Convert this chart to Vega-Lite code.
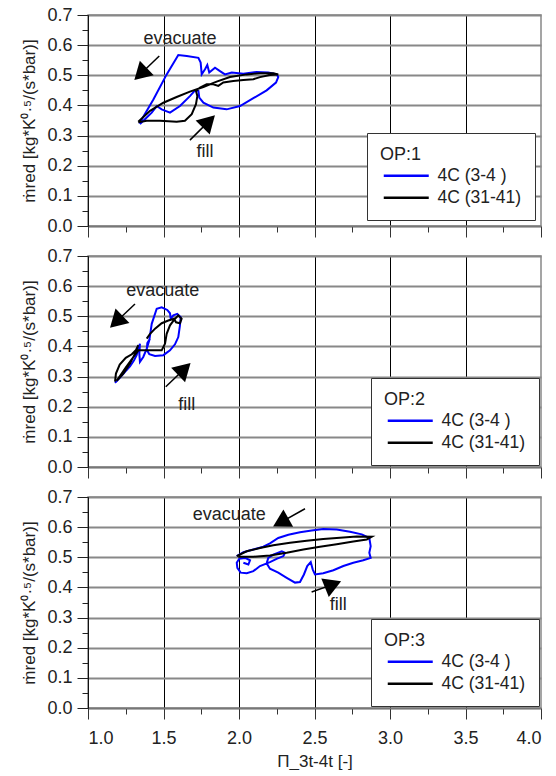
{
  "$schema": "https://vega.github.io/schema/vega-lite/v6.json",
  "background": "white",
  "padding": {"left": 20, "top": 5, "right": 0, "bottom": 0},
  "spacing": 30,
  "bounds": "flush",
  "config": {
    "font": "Liberation Sans",
    "view": {"stroke": "#888", "strokeWidth": 1.5},
    "axis": {"labelFontSize": 18, "titleFontSize": 17, "labelColor": "#222", "titleColor": "#222", "titleFontWeight": "normal", "labelFont": "Liberation Sans", "titleFont": "Liberation Sans"},
    "legend": {"orient": "bottom-right", "strokeColor": "#333", "fillColor": "white", "padding": 13, "titleFontSize": 18, "labelFontSize": 17.5, "titleFontWeight": "normal", "titleColor": "#222", "labelColor": "#222", "symbolType": "M-1,0H8", "symbolSize": 100, "symbolStrokeWidth": 2.5, "labelOffset": 40, "rowPadding": 3, "titlePadding": 3, "titleFont": "Liberation Sans", "labelFont": "Liberation Sans"}
  },
  "resolve": {"scale": {"color": "independent"}, "legend": {"color": "independent"}},
  "datasets": {
    "curves": [
      {"p":1,"s":"4C (3-4 )","i":0,"x":1.340,"y":0.340},{"p":1,"s":"4C (3-4 )","i":1,"x":1.433,"y":0.420},{"p":1,"s":"4C (3-4 )","i":2,"x":1.521,"y":0.503},{"p":1,"s":"4C (3-4 )","i":3,"x":1.598,"y":0.567},{"p":1,"s":"4C (3-4 )","i":4,"x":1.654,"y":0.564},{"p":1,"s":"4C (3-4 )","i":5,"x":1.731,"y":0.558},{"p":1,"s":"4C (3-4 )","i":6,"x":1.746,"y":0.542},{"p":1,"s":"4C (3-4 )","i":7,"x":1.753,"y":0.503},{"p":1,"s":"4C (3-4 )","i":8,"x":1.775,"y":0.520},{"p":1,"s":"4C (3-4 )","i":9,"x":1.790,"y":0.534},{"p":1,"s":"4C (3-4 )","i":10,"x":1.803,"y":0.509},{"p":1,"s":"4C (3-4 )","i":11,"x":1.841,"y":0.525},{"p":1,"s":"4C (3-4 )","i":12,"x":1.874,"y":0.514},{"p":1,"s":"4C (3-4 )","i":13,"x":1.907,"y":0.503},{"p":1,"s":"4C (3-4 )","i":14,"x":1.952,"y":0.509},{"p":1,"s":"4C (3-4 )","i":15,"x":2.029,"y":0.505},{"p":1,"s":"4C (3-4 )","i":16,"x":2.117,"y":0.511},{"p":1,"s":"4C (3-4 )","i":17,"x":2.194,"y":0.509},{"p":1,"s":"4C (3-4 )","i":18,"x":2.250,"y":0.503},{"p":1,"s":"4C (3-4 )","i":19,"x":2.260,"y":0.494},{"p":1,"s":"4C (3-4 )","i":20,"x":2.245,"y":0.476},{"p":1,"s":"4C (3-4 )","i":21,"x":2.183,"y":0.450},{"p":1,"s":"4C (3-4 )","i":22,"x":2.095,"y":0.424},{"p":1,"s":"4C (3-4 )","i":23,"x":2.007,"y":0.398},{"p":1,"s":"4C (3-4 )","i":24,"x":1.918,"y":0.387},{"p":1,"s":"4C (3-4 )","i":25,"x":1.830,"y":0.393},{"p":1,"s":"4C (3-4 )","i":26,"x":1.764,"y":0.409},{"p":1,"s":"4C (3-4 )","i":27,"x":1.737,"y":0.426},{"p":1,"s":"4C (3-4 )","i":28,"x":1.731,"y":0.448},{"p":1,"s":"4C (3-4 )","i":29,"x":1.709,"y":0.450},{"p":1,"s":"4C (3-4 )","i":30,"x":1.675,"y":0.431},{"p":1,"s":"4C (3-4 )","i":31,"x":1.609,"y":0.398},{"p":1,"s":"4C (3-4 )","i":32,"x":1.543,"y":0.376},{"p":1,"s":"4C (3-4 )","i":33,"x":1.488,"y":0.387},{"p":1,"s":"4C (3-4 )","i":34,"x":1.455,"y":0.398},{"p":1,"s":"4C (3-4 )","i":35,"x":1.422,"y":0.376},{"p":1,"s":"4C (3-4 )","i":36,"x":1.377,"y":0.354},{"p":1,"s":"4C (3-4 )","i":37,"x":1.344,"y":0.338},
      {"p":1,"s":"4C (31-41)","i":0,"x":1.333,"y":0.346},{"p":1,"s":"4C (31-41)","i":1,"x":1.411,"y":0.382},{"p":1,"s":"4C (31-41)","i":2,"x":1.499,"y":0.409},{"p":1,"s":"4C (31-41)","i":3,"x":1.587,"y":0.428},{"p":1,"s":"4C (31-41)","i":4,"x":1.675,"y":0.446},{"p":1,"s":"4C (31-41)","i":5,"x":1.764,"y":0.461},{"p":1,"s":"4C (31-41)","i":6,"x":1.852,"y":0.479},{"p":1,"s":"4C (31-41)","i":7,"x":1.940,"y":0.494},{"p":1,"s":"4C (31-41)","i":8,"x":2.051,"y":0.503},{"p":1,"s":"4C (31-41)","i":9,"x":2.139,"y":0.507},{"p":1,"s":"4C (31-41)","i":10,"x":2.227,"y":0.507},{"p":1,"s":"4C (31-41)","i":11,"x":2.260,"y":0.503},{"p":1,"s":"4C (31-41)","i":12,"x":2.205,"y":0.501},{"p":1,"s":"4C (31-41)","i":13,"x":2.139,"y":0.494},{"p":1,"s":"4C (31-41)","i":14,"x":2.095,"y":0.487},{"p":1,"s":"4C (31-41)","i":15,"x":2.029,"y":0.484},{"p":1,"s":"4C (31-41)","i":16,"x":1.962,"y":0.481},{"p":1,"s":"4C (31-41)","i":17,"x":1.896,"y":0.476},{"p":1,"s":"4C (31-41)","i":18,"x":1.863,"y":0.465},{"p":1,"s":"4C (31-41)","i":19,"x":1.830,"y":0.470},{"p":1,"s":"4C (31-41)","i":20,"x":1.786,"y":0.470},{"p":1,"s":"4C (31-41)","i":21,"x":1.742,"y":0.459},{"p":1,"s":"4C (31-41)","i":22,"x":1.715,"y":0.448},{"p":1,"s":"4C (31-41)","i":23,"x":1.724,"y":0.431},{"p":1,"s":"4C (31-41)","i":24,"x":1.715,"y":0.404},{"p":1,"s":"4C (31-41)","i":25,"x":1.687,"y":0.371},{"p":1,"s":"4C (31-41)","i":26,"x":1.642,"y":0.349},{"p":1,"s":"4C (31-41)","i":27,"x":1.587,"y":0.346},{"p":1,"s":"4C (31-41)","i":28,"x":1.477,"y":0.349},{"p":1,"s":"4C (31-41)","i":29,"x":1.389,"y":0.349},{"p":1,"s":"4C (31-41)","i":30,"x":1.333,"y":0.344},
      {"p":2,"s":"4C (3-4 )","i":0,"x":1.179,"y":0.279},{"p":2,"s":"4C (3-4 )","i":1,"x":1.212,"y":0.297},{"p":2,"s":"4C (3-4 )","i":2,"x":1.245,"y":0.316},{"p":2,"s":"4C (3-4 )","i":3,"x":1.278,"y":0.334},{"p":2,"s":"4C (3-4 )","i":4,"x":1.305,"y":0.354},{"p":2,"s":"4C (3-4 )","i":5,"x":1.322,"y":0.371},{"p":2,"s":"4C (3-4 )","i":6,"x":1.333,"y":0.393},{"p":2,"s":"4C (3-4 )","i":7,"x":1.344,"y":0.409},{"p":2,"s":"4C (3-4 )","i":8,"x":1.340,"y":0.376},{"p":2,"s":"4C (3-4 )","i":9,"x":1.344,"y":0.349},{"p":2,"s":"4C (3-4 )","i":10,"x":1.366,"y":0.365},{"p":2,"s":"4C (3-4 )","i":11,"x":1.389,"y":0.393},{"p":2,"s":"4C (3-4 )","i":12,"x":1.406,"y":0.420},{"p":2,"s":"4C (3-4 )","i":13,"x":1.422,"y":0.475},{"p":2,"s":"4C (3-4 )","i":14,"x":1.455,"y":0.525},{"p":2,"s":"4C (3-4 )","i":15,"x":1.488,"y":0.530},{"p":2,"s":"4C (3-4 )","i":16,"x":1.525,"y":0.521},{"p":2,"s":"4C (3-4 )","i":17,"x":1.543,"y":0.510},{"p":2,"s":"4C (3-4 )","i":18,"x":1.548,"y":0.492},{"p":2,"s":"4C (3-4 )","i":19,"x":1.565,"y":0.503},{"p":2,"s":"4C (3-4 )","i":20,"x":1.591,"y":0.508},{"p":2,"s":"4C (3-4 )","i":21,"x":1.614,"y":0.497},{"p":2,"s":"4C (3-4 )","i":22,"x":1.609,"y":0.470},{"p":2,"s":"4C (3-4 )","i":23,"x":1.598,"y":0.431},{"p":2,"s":"4C (3-4 )","i":24,"x":1.576,"y":0.407},{"p":2,"s":"4C (3-4 )","i":25,"x":1.543,"y":0.387},{"p":2,"s":"4C (3-4 )","i":26,"x":1.499,"y":0.371},{"p":2,"s":"4C (3-4 )","i":27,"x":1.444,"y":0.368},{"p":2,"s":"4C (3-4 )","i":28,"x":1.406,"y":0.374},{"p":2,"s":"4C (3-4 )","i":29,"x":1.389,"y":0.389},{"p":2,"s":"4C (3-4 )","i":30,"x":1.393,"y":0.411},{"p":2,"s":"4C (3-4 )","i":31,"x":1.411,"y":0.426},
      {"p":2,"s":"4C (31-41)","i":0,"x":1.179,"y":0.283},{"p":2,"s":"4C (31-41)","i":1,"x":1.185,"y":0.310},{"p":2,"s":"4C (31-41)","i":2,"x":1.210,"y":0.340},{"p":2,"s":"4C (31-41)","i":3,"x":1.250,"y":0.362},{"p":2,"s":"4C (31-41)","i":4,"x":1.290,"y":0.374},{"p":2,"s":"4C (31-41)","i":5,"x":1.318,"y":0.388},{"p":2,"s":"4C (31-41)","i":6,"x":1.333,"y":0.404},{"p":2,"s":"4C (31-41)","i":7,"x":1.311,"y":0.376},{"p":2,"s":"4C (31-41)","i":8,"x":1.278,"y":0.343},{"p":2,"s":"4C (31-41)","i":9,"x":1.234,"y":0.310},{"p":2,"s":"4C (31-41)","i":10,"x":1.190,"y":0.286},{"p":2,"s":"4C (31-41)","i":11,"x":1.250,"y":0.330},{"p":2,"s":"4C (31-41)","i":12,"x":1.333,"y":0.387},{"p":2,"s":"4C (31-41)","i":13,"x":1.411,"y":0.387},{"p":2,"s":"4C (31-41)","i":14,"x":1.488,"y":0.387},{"p":2,"s":"4C (31-41)","i":15,"x":1.510,"y":0.409},{"p":2,"s":"4C (31-41)","i":16,"x":1.521,"y":0.442},{"p":2,"s":"4C (31-41)","i":17,"x":1.543,"y":0.470},{"p":2,"s":"4C (31-41)","i":18,"x":1.570,"y":0.488},{"p":2,"s":"4C (31-41)","i":19,"x":1.598,"y":0.503},{"p":2,"s":"4C (31-41)","i":20,"x":1.620,"y":0.492},{"p":2,"s":"4C (31-41)","i":21,"x":1.609,"y":0.477},{"p":2,"s":"4C (31-41)","i":22,"x":1.583,"y":0.480},{"p":2,"s":"4C (31-41)","i":23,"x":1.570,"y":0.492},{"p":2,"s":"4C (31-41)","i":24,"x":1.532,"y":0.486},{"p":2,"s":"4C (31-41)","i":25,"x":1.488,"y":0.477},{"p":2,"s":"4C (31-41)","i":26,"x":1.444,"y":0.459},{"p":2,"s":"4C (31-41)","i":27,"x":1.411,"y":0.442},{"p":2,"s":"4C (31-41)","i":28,"x":1.389,"y":0.426},
      {"p":3,"s":"4C (3-4 )","i":0,"x":1.985,"y":0.504},{"p":3,"s":"4C (3-4 )","i":1,"x":2.029,"y":0.517},{"p":3,"s":"4C (3-4 )","i":2,"x":2.095,"y":0.526},{"p":3,"s":"4C (3-4 )","i":3,"x":2.161,"y":0.535},{"p":3,"s":"4C (3-4 )","i":4,"x":2.205,"y":0.546},{"p":3,"s":"4C (3-4 )","i":5,"x":2.260,"y":0.564},{"p":3,"s":"4C (3-4 )","i":6,"x":2.327,"y":0.575},{"p":3,"s":"4C (3-4 )","i":7,"x":2.404,"y":0.583},{"p":3,"s":"4C (3-4 )","i":8,"x":2.481,"y":0.589},{"p":3,"s":"4C (3-4 )","i":9,"x":2.558,"y":0.594},{"p":3,"s":"4C (3-4 )","i":10,"x":2.647,"y":0.592},{"p":3,"s":"4C (3-4 )","i":11,"x":2.735,"y":0.585},{"p":3,"s":"4C (3-4 )","i":12,"x":2.813,"y":0.576},{"p":3,"s":"4C (3-4 )","i":13,"x":2.863,"y":0.564},{"p":3,"s":"4C (3-4 )","i":14,"x":2.872,"y":0.537},{"p":3,"s":"4C (3-4 )","i":15,"x":2.863,"y":0.515},{"p":3,"s":"4C (3-4 )","i":16,"x":2.872,"y":0.498},{"p":3,"s":"4C (3-4 )","i":17,"x":2.823,"y":0.490},{"p":3,"s":"4C (3-4 )","i":18,"x":2.757,"y":0.482},{"p":3,"s":"4C (3-4 )","i":19,"x":2.691,"y":0.471},{"p":3,"s":"4C (3-4 )","i":20,"x":2.625,"y":0.457},{"p":3,"s":"4C (3-4 )","i":21,"x":2.558,"y":0.447},{"p":3,"s":"4C (3-4 )","i":22,"x":2.503,"y":0.443},{"p":3,"s":"4C (3-4 )","i":23,"x":2.488,"y":0.460},{"p":3,"s":"4C (3-4 )","i":24,"x":2.475,"y":0.484},{"p":3,"s":"4C (3-4 )","i":25,"x":2.452,"y":0.471},{"p":3,"s":"4C (3-4 )","i":26,"x":2.430,"y":0.443},{"p":3,"s":"4C (3-4 )","i":27,"x":2.404,"y":0.418},{"p":3,"s":"4C (3-4 )","i":28,"x":2.371,"y":0.416},{"p":3,"s":"4C (3-4 )","i":29,"x":2.316,"y":0.432},{"p":3,"s":"4C (3-4 )","i":30,"x":2.260,"y":0.449},{"p":3,"s":"4C (3-4 )","i":31,"x":2.205,"y":0.462},{"p":3,"s":"4C (3-4 )","i":32,"x":2.183,"y":0.480},{"p":3,"s":"4C (3-4 )","i":33,"x":2.194,"y":0.498},{"p":3,"s":"4C (3-4 )","i":34,"x":2.227,"y":0.509},{"p":3,"s":"4C (3-4 )","i":35,"x":2.283,"y":0.520},{"p":3,"s":"4C (3-4 )","i":36,"x":2.305,"y":0.515},{"p":3,"s":"4C (3-4 )","i":37,"x":2.294,"y":0.504},{"p":3,"s":"4C (3-4 )","i":38,"x":2.249,"y":0.495},{"p":3,"s":"4C (3-4 )","i":39,"x":2.205,"y":0.484},{"p":3,"s":"4C (3-4 )","i":40,"x":2.139,"y":0.471},{"p":3,"s":"4C (3-4 )","i":41,"x":2.095,"y":0.454},{"p":3,"s":"4C (3-4 )","i":42,"x":2.051,"y":0.447},{"p":3,"s":"4C (3-4 )","i":43,"x":2.011,"y":0.449},{"p":3,"s":"4C (3-4 )","i":44,"x":1.989,"y":0.465},{"p":3,"s":"4C (3-4 )","i":45,"x":1.985,"y":0.482},{"p":3,"s":"4C (3-4 )","i":46,"x":2.002,"y":0.495},{"p":3,"s":"4C (3-4 )","i":47,"x":2.040,"y":0.498},{"p":3,"s":"4C (3-4 )","i":48,"x":2.073,"y":0.490},{"p":3,"s":"4C (3-4 )","i":49,"x":2.062,"y":0.476},{"p":3,"s":"4C (3-4 )","i":50,"x":2.029,"y":0.482},
      {"p":3,"s":"4C (31-41)","i":0,"x":1.985,"y":0.504},{"p":3,"s":"4C (31-41)","i":1,"x":2.051,"y":0.520},{"p":3,"s":"4C (31-41)","i":2,"x":2.139,"y":0.531},{"p":3,"s":"4C (31-41)","i":3,"x":2.227,"y":0.540},{"p":3,"s":"4C (31-41)","i":4,"x":2.338,"y":0.548},{"p":3,"s":"4C (31-41)","i":5,"x":2.448,"y":0.555},{"p":3,"s":"4C (31-41)","i":6,"x":2.558,"y":0.561},{"p":3,"s":"4C (31-41)","i":7,"x":2.669,"y":0.565},{"p":3,"s":"4C (31-41)","i":8,"x":2.779,"y":0.569},{"p":3,"s":"4C (31-41)","i":9,"x":2.879,"y":0.568},{"p":3,"s":"4C (31-41)","i":10,"x":2.846,"y":0.559},{"p":3,"s":"4C (31-41)","i":11,"x":2.757,"y":0.552},{"p":3,"s":"4C (31-41)","i":12,"x":2.647,"y":0.543},{"p":3,"s":"4C (31-41)","i":13,"x":2.536,"y":0.535},{"p":3,"s":"4C (31-41)","i":14,"x":2.426,"y":0.526},{"p":3,"s":"4C (31-41)","i":15,"x":2.316,"y":0.515},{"p":3,"s":"4C (31-41)","i":16,"x":2.205,"y":0.506},{"p":3,"s":"4C (31-41)","i":17,"x":2.095,"y":0.502},{"p":3,"s":"4C (31-41)","i":18,"x":1.995,"y":0.502}
    ],
    "arrows": [
      {"p":1,"x":1.348,"y":0.504,"tx":1.472,"ty":0.564,"angle":226},
      {"p":1,"x":1.800,"y":0.347,"tx":1.675,"ty":0.285,"angle":45},
      {"p":2,"x":1.187,"y":0.482,"tx":1.311,"ty":0.541,"angle":226},
      {"p":2,"x":1.638,"y":0.325,"tx":1.515,"ty":0.266,"angle":46},
      {"p":3,"x":2.276,"y":0.616,"tx":2.437,"ty":0.661,"angle":241},
      {"p":3,"x":2.623,"y":0.410,"tx":2.481,"ty":0.385,"angle":68}
    ],
    "notes": [
      {"p":1,"x":1.61,"y":0.62,"label":"evacuate"},
      {"p":1,"x":1.775,"y":0.244,"label":"fill"},
      {"p":2,"x":1.495,"y":0.583,"label":"evacuate"},
      {"p":2,"x":1.654,"y":0.206,"label":"fill"},
      {"p":3,"x":1.936,"y":0.641,"label":"evacuate"},
      {"p":3,"x":2.658,"y":0.341,"label":"fill"}
    ]
  },
  "vconcat": [
    {
      "width": 453, "height": 211,
      "encoding": {
        "x": {"field": "x", "type": "quantitative", "scale": {"domain": [1, 4], "nice": false, "zero": false},
          "axis": {"values": [1,1.25,1.5,1.75,2,2.25,2.5,2.75,3,3.25,3.5,3.75,4], "labels": false, "title": null, "grid": true, "gridColor": "#000", "gridWidth": 1,
            "gridOpacity": {"condition": {"test": "abs(datum.value*2-round(datum.value*2))<0.01 && datum.value<3.99", "value": 1}, "value": 0},
            "tickSize": {"condition": {"test": "abs(datum.value*2-round(datum.value*2))<0.01", "value": 11}, "value": 6},
            "tickColor": "#333", "domainColor": "#777", "domainWidth": 1.5}},
        "y": {"field": "y", "type": "quantitative", "scale": {"domain": [0, 0.7], "nice": false},
          "axis": {"values": [0,0.05,0.1,0.15,0.2,0.25,0.3,0.35,0.4,0.45,0.5,0.55,0.6,0.65,0.7], "title": "ṁred [kg*K⁰·⁵/(s*bar)]",
            "labelExpr": "abs(datum.value*10-round(datum.value*10))<0.01 ? format(datum.value,'.1f') : ''",
            "grid": true, "gridColor": "#888", "gridWidth": 2,
            "gridOpacity": {"condition": {"test": "abs(datum.value*10-round(datum.value*10))<0.01", "value": 1}, "value": 0},
            "tickSize": {"condition": {"test": "abs(datum.value*10-round(datum.value*10))<0.01", "value": 11}, "value": 6},
            "tickColor": "#222", "domainColor": "#111", "labelPadding": 5, "titlePadding": 8}}
      },
      "layer": [
        {"data": {"name": "curves"}, "transform": [{"filter": "datum.p == 1"}],
          "mark": {"type": "line", "strokeWidth": 2},
          "encoding": {"color": {"field": "s", "type": "nominal", "scale": {"domain": ["4C (3-4 )", "4C (31-41)"], "range": ["#0000ff", "#000000"]}, "legend": {"title": "OP:1", "offset": 6}}, "order": {"field": "i", "type": "quantitative"}}},
        {"data": {"name": "arrows"}, "transform": [{"filter": "datum.p == 1"}],
          "mark": {"type": "rule", "strokeWidth": 1.5, "color": "#000"},
          "encoding": {"x2": {"field": "tx"}, "y2": {"field": "ty"}}},
        {"data": {"name": "arrows"}, "transform": [{"filter": "datum.p == 1"}],
          "mark": {"type": "point", "shape": "triangle-up", "filled": true, "color": "#000", "opacity": 1, "size": 400},
          "encoding": {"angle": {"field": "angle", "type": "quantitative", "scale": null}}},
        {"data": {"name": "notes"}, "transform": [{"filter": "datum.p == 1"}],
          "mark": {"type": "text", "fontSize": 18, "color": "#222"},
          "encoding": {"text": {"field": "label"}}}
      ]
    },
    {
      "width": 453, "height": 211,
      "encoding": {
        "x": {"field": "x", "type": "quantitative", "scale": {"domain": [1, 4], "nice": false, "zero": false},
          "axis": {"values": [1,1.25,1.5,1.75,2,2.25,2.5,2.75,3,3.25,3.5,3.75,4], "labels": false, "title": null, "grid": true, "gridColor": "#000", "gridWidth": 1,
            "gridOpacity": {"condition": {"test": "abs(datum.value*2-round(datum.value*2))<0.01 && datum.value<3.99", "value": 1}, "value": 0},
            "tickSize": {"condition": {"test": "abs(datum.value*2-round(datum.value*2))<0.01", "value": 11}, "value": 6},
            "tickColor": "#333", "domainColor": "#777", "domainWidth": 1.5}},
        "y": {"field": "y", "type": "quantitative", "scale": {"domain": [0, 0.7], "nice": false},
          "axis": {"values": [0,0.05,0.1,0.15,0.2,0.25,0.3,0.35,0.4,0.45,0.5,0.55,0.6,0.65,0.7], "title": "ṁred [kg*K⁰·⁵/(s*bar)]",
            "labelExpr": "abs(datum.value*10-round(datum.value*10))<0.01 ? format(datum.value,'.1f') : ''",
            "grid": true, "gridColor": "#888", "gridWidth": 2,
            "gridOpacity": {"condition": {"test": "abs(datum.value*10-round(datum.value*10))<0.01", "value": 1}, "value": 0},
            "tickSize": {"condition": {"test": "abs(datum.value*10-round(datum.value*10))<0.01", "value": 11}, "value": 6},
            "tickColor": "#222", "domainColor": "#111", "labelPadding": 5, "titlePadding": 8}}
      },
      "layer": [
        {"data": {"name": "curves"}, "transform": [{"filter": "datum.p == 2"}],
          "mark": {"type": "line", "strokeWidth": 2},
          "encoding": {"color": {"field": "s", "type": "nominal", "scale": {"domain": ["4C (3-4 )", "4C (31-41)"], "range": ["#0000ff", "#000000"]}, "legend": {"title": "OP:2", "offset": 2}}, "order": {"field": "i", "type": "quantitative"}}},
        {"data": {"name": "arrows"}, "transform": [{"filter": "datum.p == 2"}],
          "mark": {"type": "rule", "strokeWidth": 1.5, "color": "#000"},
          "encoding": {"x2": {"field": "tx"}, "y2": {"field": "ty"}}},
        {"data": {"name": "arrows"}, "transform": [{"filter": "datum.p == 2"}],
          "mark": {"type": "point", "shape": "triangle-up", "filled": true, "color": "#000", "opacity": 1, "size": 400},
          "encoding": {"angle": {"field": "angle", "type": "quantitative", "scale": null}}},
        {"data": {"name": "notes"}, "transform": [{"filter": "datum.p == 2"}],
          "mark": {"type": "text", "fontSize": 18, "color": "#222"},
          "encoding": {"text": {"field": "label"}}}
      ]
    },
    {
      "width": 453, "height": 211,
      "encoding": {
        "x": {"field": "x", "type": "quantitative", "scale": {"domain": [1, 4], "nice": false, "zero": false},
          "axis": {"values": [1,1.25,1.5,1.75,2,2.25,2.5,2.75,3,3.25,3.5,3.75,4], "title": "Π_3t-4t [-]", "titlePadding": 6,
            "labelExpr": "abs(datum.value*2-round(datum.value*2))<0.01 ? format(datum.value,'.1f') : ''",
            "labelPadding": 10, "grid": true, "gridColor": "#000", "gridWidth": 1,
            "gridOpacity": {"condition": {"test": "abs(datum.value*2-round(datum.value*2))<0.01 && datum.value<3.99", "value": 1}, "value": 0},
            "tickSize": {"condition": {"test": "abs(datum.value*2-round(datum.value*2))<0.01", "value": 11}, "value": 6},
            "tickColor": "#333", "domainColor": "#777", "domainWidth": 1.5}},
        "y": {"field": "y", "type": "quantitative", "scale": {"domain": [0, 0.7], "nice": false},
          "axis": {"values": [0,0.05,0.1,0.15,0.2,0.25,0.3,0.35,0.4,0.45,0.5,0.55,0.6,0.65,0.7], "title": "ṁred [kg*K⁰·⁵/(s*bar)]",
            "labelExpr": "abs(datum.value*10-round(datum.value*10))<0.01 ? format(datum.value,'.1f') : ''",
            "grid": true, "gridColor": "#888", "gridWidth": 2,
            "gridOpacity": {"condition": {"test": "abs(datum.value*10-round(datum.value*10))<0.01", "value": 1}, "value": 0},
            "tickSize": {"condition": {"test": "abs(datum.value*10-round(datum.value*10))<0.01", "value": 11}, "value": 6},
            "tickColor": "#222", "domainColor": "#111", "labelPadding": 5, "titlePadding": 8}}
      },
      "layer": [
        {"data": {"name": "curves"}, "transform": [{"filter": "datum.p == 3"}],
          "mark": {"type": "line", "strokeWidth": 2},
          "encoding": {"color": {"field": "s", "type": "nominal", "scale": {"domain": ["4C (3-4 )", "4C (31-41)"], "range": ["#0000ff", "#000000"]}, "legend": {"title": "OP:3", "offset": 2}}, "order": {"field": "i", "type": "quantitative"}}},
        {"data": {"name": "arrows"}, "transform": [{"filter": "datum.p == 3"}],
          "mark": {"type": "rule", "strokeWidth": 1.5, "color": "#000"},
          "encoding": {"x2": {"field": "tx"}, "y2": {"field": "ty"}}},
        {"data": {"name": "arrows"}, "transform": [{"filter": "datum.p == 3"}],
          "mark": {"type": "point", "shape": "triangle-up", "filled": true, "color": "#000", "opacity": 1, "size": 400},
          "encoding": {"angle": {"field": "angle", "type": "quantitative", "scale": null}}},
        {"data": {"name": "notes"}, "transform": [{"filter": "datum.p == 3"}],
          "mark": {"type": "text", "fontSize": 18, "color": "#222"},
          "encoding": {"text": {"field": "label"}}}
      ]
    }
  ]
}
